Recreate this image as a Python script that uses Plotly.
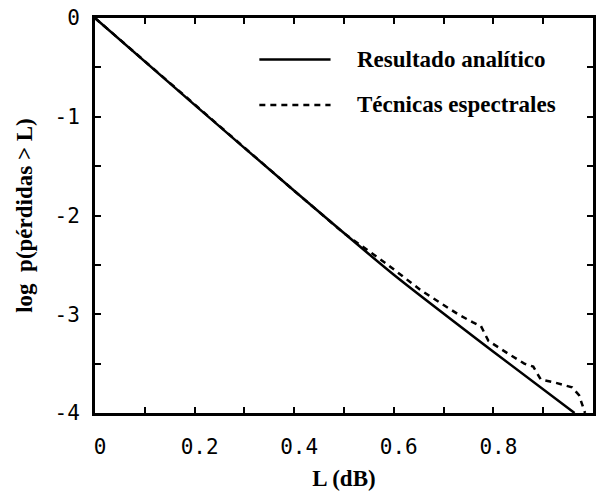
import plotly.graph_objects as go

# ---- data ----
L_analitico = [0.0, 0.2, 0.4, 0.6, 0.8, 0.963]
logp_analitico = [0.0, -0.88, -1.75, -2.6, -3.38, -4.0]

L_espectral = [0.0, 0.2, 0.4, 0.5, 0.549, 0.583, 0.655, 0.695, 0.729,
               0.758, 0.775, 0.79, 0.808, 0.83, 0.862, 0.88, 0.895, 0.922, 0.958,
               0.972, 0.984]
logp_espectral = [0.0, -0.88, -1.75, -2.18, -2.36, -2.48, -2.76, -2.89, -3.0,
                  -3.08, -3.12, -3.27, -3.33, -3.40, -3.50, -3.53, -3.66, -3.69, -3.74,
                  -3.82, -4.0]

X_TICKS = [0, 0.2, 0.4, 0.6, 0.8, 1]
X_TICK_LABELS = ["0", "0.2", "0.4", "0.6", "0.8", "1"]
X_MINOR = [0.1, 0.3, 0.5, 0.7, 0.9]
Y_TICKS = [0, -1, -2, -3, -4]
Y_TICK_LABELS = ["0", "-1", "-2", "-3", "-4"]
Y_MINOR = [-0.5, -1.5, -2.5, -3.5]

NAMES = ["Resultado analítico", "Técnicas espectrales"]

SERIF = "Liberation Serif, Times New Roman, serif"
MONO = "DejaVu Sans Mono, monospace"

fig = go.Figure()
fig.add_trace(go.Scatter(x=L_analitico, y=logp_analitico, mode="lines",
                         line=dict(color="black", width=2.5, shape="spline", smoothing=0.6),
                         name=NAMES[0], showlegend=False))
fig.add_trace(go.Scatter(x=L_espectral, y=logp_espectral, mode="lines",
                         line=dict(color="black", width=2.5, dash="6px,5px"),
                         name=NAMES[1], showlegend=False))

# custom legend (long line samples like the reference)
leg_rows = [(0.895, "solid"), (0.78, "6px,5px")]
for (yy, dash), name in zip(leg_rows, NAMES):
    fig.add_shape(type="line", xref="paper", yref="paper",
                  x0=0.33, x1=0.473, y0=yy, y1=yy,
                  line=dict(color="black", width=2.5, dash=dash))
    fig.add_annotation(xref="paper", yref="paper", x=0.522, y=yy,
                       xanchor="left", yanchor="middle", showarrow=False,
                       text="<b>" + name + "</b>",
                       font=dict(family=SERIF, size=23, color="black"))

axis_common = dict(
    showline=True, linewidth=3, linecolor="black", mirror="ticks",
    ticks="inside", ticklen=6, tickwidth=2, tickcolor="black",
    showgrid=False, zeroline=False,
    tickfont=dict(family=MONO, size=21, color="black"),
)
minor_common = dict(tickmode="array", ticks="inside", ticklen=6, tickwidth=2,
                    tickcolor="black")

fig.update_xaxes(range=[0, 1], tickmode="array", tickvals=X_TICKS, ticktext=X_TICK_LABELS,
                 minor=dict(tickvals=X_MINOR, **minor_common),
                 ticklabelstandoff=13, ticklabelshift=5,
                 title=dict(text="<b>L (dB)</b>",
                            font=dict(family=SERIF, size=23, color="black"), standoff=12),
                 **axis_common)
fig.update_yaxes(range=[-4, 0], tickmode="array", tickvals=Y_TICKS, ticktext=Y_TICK_LABELS,
                 minor=dict(tickvals=Y_MINOR, **minor_common),
                 ticklabelstandoff=8,
                 title=dict(text="<b>log  p(pérdidas > L)</b>",
                            font=dict(family=SERIF, size=23, color="black"), standoff=16),
                 **axis_common)

fig.update_layout(width=602, height=504,
                  margin=dict(l=95, r=6, t=15, b=91),
                  plot_bgcolor="white", paper_bgcolor="white")

fig.write_html("out.html")
